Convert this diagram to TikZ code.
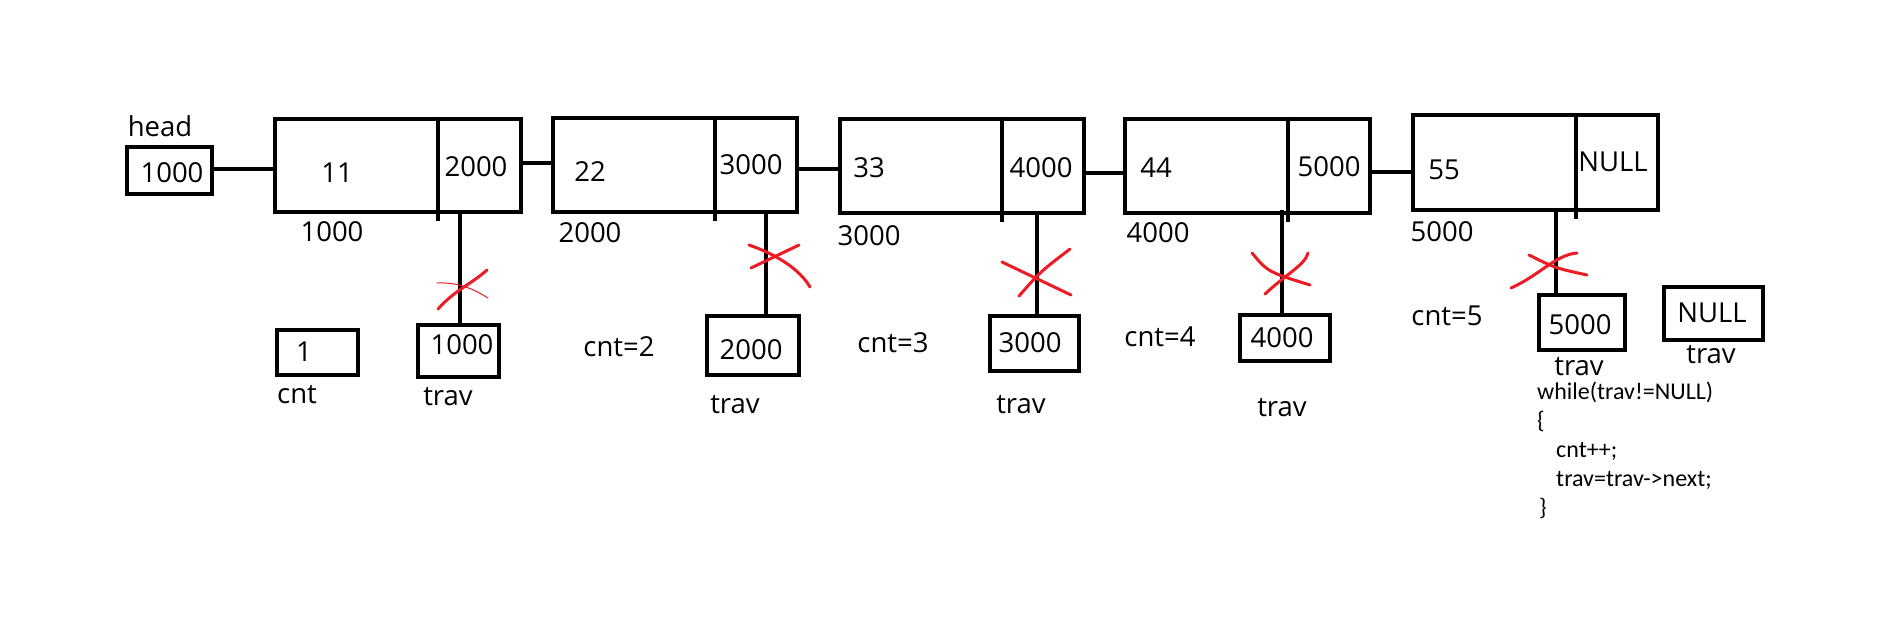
\documentclass[tikz,border=0pt]{standalone}
\usepackage{fontspec}
\setmainfont{Open Sans}
\newfontfamily\codefont{Carlito}
\definecolor{xred}{RGB}{237,28,36}
\begin{document}
\begin{tikzpicture}[x=1pt,y=-1pt,
  box/.style={draw,line width=4.6pt,inner sep=0pt,anchor=center},
  txt/.style={font=\fontsize{27.5}{30}\selectfont,inner sep=0pt},
  code/.style={font=\codefont\fontsize{24}{28}\selectfont,inner sep=0pt,anchor=base west},
  link/.style={line width=4.6pt},
  cross/.style={draw=xred,line width=3pt,line cap=round},
  thincross/.style={draw=xred,line width=1pt,line cap=round},
]
\fill[white] (0,0) rectangle (1879,638);
\useasboundingbox (0,0) rectangle (1879,638);

% list nodes and the head pointer
\node[box,minimum width=85pt,minimum height=47pt] (head) at (169.5,170.5) {};
\node[box,minimum width=246pt,minimum height=93pt] (n1) at (398,165.5) {};
\node[box,minimum width=244pt,minimum height=94pt] (n2) at (675,165) {};
\node[box,minimum width=244pt,minimum height=94pt] (n3) at (962,166) {};
\node[box,minimum width=245pt,minimum height=94pt] (n4) at (1247.5,166) {};
\node[box,minimum width=245pt,minimum height=95pt] (n5) at (1535.5,162.5) {};

% data | next dividers
\draw[link] ([xshift=40pt]n1.north) -- ([xshift=40pt,yshift=-7pt]n1.south);
\draw[link] ([xshift=40pt]n2.north) -- ([xshift=40pt,yshift=-7pt]n2.south);
\draw[link] ([xshift=40pt]n3.north) -- ([xshift=40pt,yshift=-7pt]n3.south);
\draw[link] ([xshift=40.5pt]n4.north) -- ([xshift=40.5pt,yshift=-7pt]n4.south);
\draw[link] ([xshift=40.5pt]n5.north) -- ([xshift=40.5pt,yshift=-7pt]n5.south);

% links
\coordinate (la) at ([yshift=1.5pt]head.east);
\coordinate (lb) at ([yshift=2.5pt]n1.east);
\coordinate (lc) at ([yshift=-4pt]n2.east);
\coordinate (ld) at ([yshift=-7pt]n3.east);
\coordinate (le) at ([yshift=-6pt]n4.east);
\draw[link] (la) -- (la -| n1.west);
\draw[link] (lb) -- (lb -| n2.west);
\draw[link] (lc) -- (lc -| n3.west);
\draw[link] (ld) -- (ld -| n4.west);
\draw[link] (le) -- (le -| n5.west);

% texts of the list
\node[txt] (hdl) at (160,126) {head};
\node[txt] (hv) at (172,173) {1000};
\node[txt] (d1) at (337,173) {11};
\node[txt] (p1) at (476,167) {2000};
\node[txt] (a1) at (332,232) {1000};
\node[txt] (d2) at (590,172) {22};
\node[txt] (p2) at (751,165) {3000};
\node[txt] (a2) at (590,233) {2000};
\node[txt] (d3) at (869,168) {33};
\node[txt] (p3) at (1041,168) {4000};
\node[txt] (a3) at (869,236) {3000};
\node[txt] (d4) at (1156,168) {44};
\node[txt] (p4) at (1329,167) {5000};
\node[txt] (a4) at (1158,233) {4000};
\node[txt] (d5) at (1444,170) {55};
\node[txt] (p5) at (1613,162) {NULL};
\node[txt] (a5) at (1442,232) {5000};

% counter and traversal pointer boxes
\node[box,minimum width=81pt,minimum height=45pt] (cb) at (317.5,352.5) {};
\node[box,minimum width=81pt,minimum height=52pt] (t1) at (458.5,351) {};
\node[box,minimum width=92pt,minimum height=59pt] (t2) at (753,345.5) {};
\node[box,minimum width=89pt,minimum height=55pt] (t3) at (1034.5,343.5) {};
\node[box,minimum width=90pt,minimum height=46pt] (t4) at (1285,338) {};
\node[box,minimum width=86pt,minimum height=55pt] (t5) at (1582,322.5) {};
\node[box,minimum width=99pt,minimum height=53pt] (t6) at (1713.5,313.5) {};

% traversal pointer lines up to the nodes
\coordinate (q1) at ([xshift=1.5pt]t1.north);
\coordinate (q2) at ([xshift=13pt]t2.north);
\coordinate (q3) at ([xshift=2.5pt]t3.north);
\coordinate (q4) at ([xshift=-3pt]t4.north);
\coordinate (q5) at ([xshift=-26pt]t5.north);
\draw[link] (q1) -- (q1 |- n1.south);
\draw[link] (q2) -- (q2 |- n2.south);
\draw[link] (q3) -- (q3 |- n3.south);
\draw[link] (q4) -- ([yshift=5pt]q4 |- n4.south);
\draw[link] (q5) -- (q5 |- n5.south);

\node[txt] (cv) at (304,352) {1};
\node[txt] (cl) at (297,395) {cnt};
\node[txt] (v1) at (462,345) {1000};
\node[txt] (r1) at (448,397) {trav};
\node[txt] (c2) at (619,347) {cnt=2};
\node[txt] (v2) at (751,350) {2000};
\node[txt] (r2) at (735,405) {trav};
\node[txt] (c3) at (893,343) {cnt=3};
\node[txt] (v3) at (1030,343) {3000};
\node[txt] (r3) at (1021,405) {trav};
\node[txt] (c4) at (1160,337) {cnt=4};
\node[txt] (v4) at (1282,338) {4000};
\node[txt] (r4) at (1282,408) {trav};
\node[txt] (c5) at (1447,316) {cnt=5};
\node[txt] (v5) at (1580,325) {5000};
\node[txt] (r5) at (1579,367) {trav};
\node[txt] (v6) at (1712,313) {NULL};
\node[txt] (r6) at (1711,355) {trav};

% crossed-out pointers
\draw[cross] (438,309) .. controls (455,290) and (470,285) .. (487,270);
\draw[thincross] (437,283) .. controls (460,282) and (475,290) .. (488,298);
\draw[cross] (751,268) -- (799,245);
\draw[cross] (749,245) .. controls (778,255) and (800,270) .. (810,287);
\draw[cross] (1002,262) -- (1071,295);
\draw[cross] (1019,296) .. controls (1040,272) .. (1070,249);
\draw[cross] (1252,253) .. controls (1268,272) .. (1310,285);
\draw[cross] (1265,294) .. controls (1285,275) and (1305,265) .. (1308,253);
\draw[cross] (1511,288) .. controls (1540,275) and (1555,255) .. (1577,253);
\draw[cross] (1529,255) .. controls (1555,268) .. (1587,275);

% loop code
\node[code] (w1) at (1537,399) {while(trav!=NULL)};
\node[code] (w2) at (1537,428) {\{};
\node[code] (w3) at (1556,457) {cnt++;};
\node[code] (w4) at (1556,486) {trav=trav->next;};
\node[code] (w5) at (1539,515) {\}};
\end{tikzpicture}
\end{document}
